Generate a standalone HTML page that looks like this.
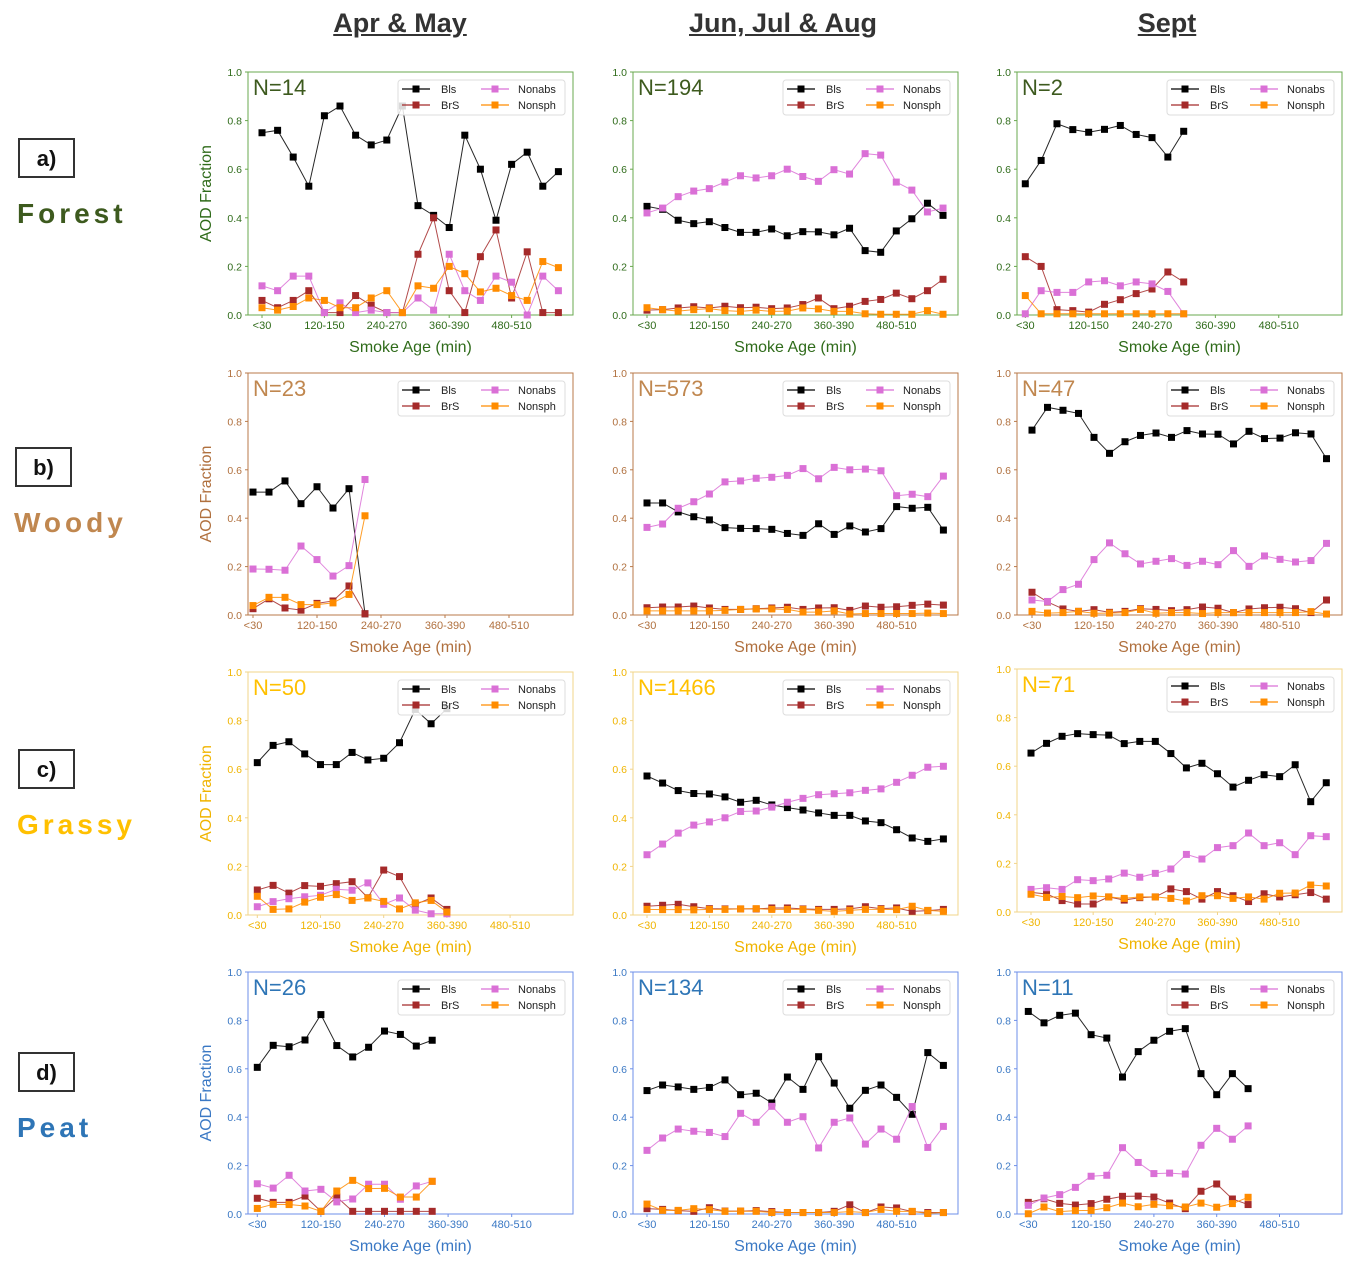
<!DOCTYPE html>
<html><head><meta charset="utf-8">
<style>
body{margin:0;background:#fff;font-family:"Liberation Sans",sans-serif;}
#wrap{position:relative;width:1356px;height:1270px;overflow:hidden;}
.ctitle{position:absolute;top:8px;font-size:27px;font-weight:bold;text-decoration:underline;color:#333;transform:translateX(-50%);white-space:nowrap;}
.rbox{position:absolute;width:57px;height:40px;border:2px solid #333;box-sizing:border-box;font-size:22px;font-weight:bold;text-align:center;line-height:38px;color:#111;}
.rname{position:absolute;font-size:28px;font-weight:bold;letter-spacing:4px;}
</style></head>
<body><div id="wrap">
<div class="ctitle" style="left:400px">Apr &amp; May</div>
<div class="ctitle" style="left:783px">Jun, Jul &amp; Aug</div>
<div class="ctitle" style="left:1167px">Sept</div>
<div class="rbox" style="left:18px;top:138px">a)</div>
<div class="rname" style="left:17px;top:198px;color:#3d5a1e">Forest</div>
<div class="rbox" style="left:15px;top:447px">b)</div>
<div class="rname" style="left:14px;top:507px;color:#c0874f">Woody</div>
<div class="rbox" style="left:18px;top:749px">c)</div>
<div class="rname" style="left:17px;top:809px;color:#ffc000">Grassy</div>
<div class="rbox" style="left:18px;top:1052px">d)</div>
<div class="rname" style="left:17px;top:1112px;color:#2e75b6">Peat</div>
<svg id="chart" width="1356" height="1270" style="position:absolute;left:0;top:0"></svg>
</div>
<script>
const tickLabels=["<30","120-150","240-270","360-390","480-510"];
const tickIdx=[0,4,8,12,16];
const yTicks=[0,0.2,0.4,0.6,0.8,1.0];
const seriesNames=["Bls","BrS","Nonabs","Nonsph"];
const panelN=["N=14","N=194","N=2","N=23","N=573","N=47","N=50","N=1466","N=71","N=26","N=134","N=11"];
const blsA1=[0.75,0.76,0.65,0.53,0.82,0.86,0.74,0.70,0.72,0.86,0.45,0.41,0.36,0.74,0.60,0.39,0.62,0.67,0.53,0.59];
const brsA1=[0.06,0.03,0.06,0.10,0.01,0.01,0.08,0.04,0.01,0.01,0.25,0.40,0.10,0.01,0.24,0.35,0.07,0.26,0.01,0.01];
const nabA1=[0.12,0.10,0.16,0.16,0.01,0.05,0.01,0.02,0.01,0.01,0.07,0.02,0.25,0.10,0.06,0.16,0.135,0.0,0.16,0.10];
const nspA1=[0.03,0.02,0.035,0.07,0.06,0.03,0.03,0.07,0.10,0.01,0.12,0.11,0.20,0.17,0.095,0.11,0.08,0.06,0.22,0.195];
const blsA2=[0.447,0.435,0.39,0.376,0.384,0.36,0.34,0.34,0.354,0.326,0.343,0.342,0.33,0.357,0.265,0.258,0.346,0.396,0.46,0.41];
const brsA2=[0.02,0.022,0.029,0.034,0.029,0.036,0.03,0.032,0.026,0.029,0.043,0.07,0.026,0.036,0.056,0.064,0.09,0.067,0.10,0.147];
const nabA2=[0.42,0.44,0.487,0.51,0.52,0.547,0.573,0.564,0.573,0.60,0.57,0.55,0.598,0.58,0.664,0.658,0.547,0.514,0.424,0.44];
const nspA2=[0.03,0.022,0.016,0.022,0.026,0.018,0.015,0.02,0.015,0.016,0.029,0.025,0.015,0.015,0.005,0.003,0.003,0.003,0.018,0.003];
const blsA3=[0.54,0.636,0.787,0.763,0.752,0.764,0.78,0.743,0.73,0.65,0.756];
const brsA3=[0.24,0.2,0.022,0.018,0.012,0.044,0.063,0.088,0.107,0.177,0.136];
const nabA3=[0.005,0.10,0.093,0.093,0.136,0.141,0.12,0.136,0.128,0.097,0.005];
const nspA3=[0.08,0.005,0.005,0.005,0.005,0.005,0.005,0.005,0.005,0.005,0.005];
const blsB1=[0.508,0.508,0.554,0.46,0.53,0.442,0.522,0.005];
const brsB1=[0.026,0.067,0.029,0.02,0.048,0.058,0.12,0.005];
const nabB1=[0.19,0.189,0.185,0.285,0.229,0.161,0.204,0.56];
const nspB1=[0.039,0.073,0.073,0.043,0.043,0.05,0.085,0.41];
const blsB2=[0.463,0.463,0.426,0.406,0.393,0.361,0.358,0.357,0.354,0.337,0.329,0.377,0.333,0.368,0.343,0.357,0.448,0.441,0.445,0.351];
const brsB2=[0.03,0.033,0.033,0.037,0.029,0.023,0.023,0.026,0.029,0.032,0.023,0.029,0.03,0.019,0.037,0.032,0.034,0.04,0.045,0.041];
const nabB2=[0.362,0.376,0.441,0.468,0.5,0.55,0.554,0.565,0.569,0.577,0.605,0.563,0.61,0.6,0.603,0.596,0.493,0.499,0.489,0.574];
const nspB2=[0.017,0.017,0.017,0.017,0.017,0.019,0.023,0.025,0.025,0.023,0.012,0.012,0.017,0.004,0.006,0.006,0.006,0.006,0.008,0.006];
const blsB3=[0.764,0.858,0.846,0.833,0.734,0.668,0.716,0.742,0.752,0.734,0.762,0.748,0.747,0.707,0.759,0.729,0.731,0.753,0.748,0.646];
const brsB3=[0.094,0.054,0.025,0.015,0.022,0.011,0.015,0.026,0.023,0.018,0.022,0.033,0.028,0.01,0.025,0.03,0.032,0.026,0.01,0.062];
const nabB3=[0.062,0.056,0.105,0.127,0.229,0.298,0.253,0.211,0.222,0.233,0.205,0.222,0.208,0.266,0.201,0.244,0.23,0.219,0.225,0.296];
const nspB3=[0.015,0.008,0.01,0.015,0.007,0.008,0.01,0.023,0.007,0.01,0.01,0.006,0.01,0.01,0.01,0.01,0.01,0.01,0.014,0.004];
const blsC1=[0.627,0.698,0.713,0.663,0.619,0.619,0.669,0.638,0.645,0.709,0.846,0.787,0.849];
const brsC1=[0.103,0.122,0.09,0.121,0.118,0.129,0.137,0.071,0.185,0.158,0.043,0.07,0.023];
const nabC1=[0.034,0.055,0.067,0.075,0.081,0.106,0.102,0.132,0.044,0.07,0.02,0.005,0.005];
const nspC1=[0.077,0.023,0.025,0.053,0.073,0.084,0.06,0.07,0.056,0.025,0.05,0.06,0.012];
const blsC2=[0.572,0.543,0.512,0.5,0.498,0.486,0.464,0.472,0.453,0.442,0.432,0.42,0.41,0.41,0.387,0.38,0.351,0.317,0.303,0.313];
const brsC2=[0.036,0.04,0.044,0.034,0.026,0.025,0.025,0.025,0.029,0.029,0.025,0.023,0.023,0.025,0.034,0.026,0.029,0.015,0.018,0.023];
const nabC2=[0.248,0.292,0.337,0.37,0.383,0.4,0.426,0.428,0.444,0.464,0.48,0.495,0.499,0.503,0.513,0.519,0.546,0.575,0.608,0.612];
const nspC2=[0.023,0.022,0.022,0.021,0.023,0.023,0.025,0.026,0.023,0.023,0.023,0.019,0.015,0.019,0.023,0.023,0.022,0.036,0.019,0.015];
const blsC3=[0.654,0.694,0.723,0.734,0.73,0.728,0.693,0.702,0.702,0.652,0.593,0.612,0.569,0.514,0.542,0.565,0.557,0.606,0.454,0.532];
const brsC3=[0.081,0.074,0.047,0.033,0.033,0.062,0.049,0.059,0.062,0.095,0.084,0.053,0.084,0.067,0.043,0.075,0.062,0.071,0.08,0.053];
const nabC3=[0.093,0.1,0.093,0.133,0.129,0.136,0.16,0.143,0.159,0.177,0.237,0.218,0.265,0.273,0.325,0.273,0.285,0.236,0.314,0.31];
const nspC3=[0.073,0.06,0.064,0.059,0.066,0.062,0.056,0.062,0.062,0.056,0.045,0.067,0.067,0.056,0.062,0.053,0.077,0.078,0.111,0.107];
const blsD1=[0.606,0.697,0.691,0.719,0.824,0.696,0.649,0.689,0.756,0.742,0.694,0.718];
const brsD1=[0.065,0.048,0.048,0.074,0.011,0.07,0.011,0.011,0.011,0.011,0.011,0.011];
const nabD1=[0.125,0.107,0.16,0.095,0.102,0.05,0.062,0.123,0.123,0.061,0.116,0.135];
const nspD1=[0.023,0.04,0.039,0.033,0.011,0.095,0.139,0.105,0.106,0.07,0.07,0.135];
const blsD2=[0.51,0.533,0.525,0.515,0.523,0.554,0.493,0.499,0.459,0.566,0.515,0.65,0.541,0.437,0.511,0.533,0.482,0.412,0.667,0.614];
const brsD2=[0.022,0.019,0.014,0.011,0.026,0.012,0.012,0.014,0.01,0.006,0.006,0.006,0.011,0.038,0.006,0.029,0.025,0.01,0.006,0.006];
const nabD2=[0.263,0.314,0.351,0.342,0.337,0.32,0.416,0.379,0.445,0.379,0.402,0.273,0.379,0.397,0.289,0.351,0.309,0.444,0.275,0.362];
const nspD2=[0.041,0.015,0.015,0.022,0.018,0.011,0.012,0.011,0.006,0.006,0.006,0.006,0.006,0.01,0.006,0.019,0.011,0.011,0.002,0.006];
const blsD3=[0.837,0.79,0.821,0.83,0.741,0.727,0.566,0.671,0.718,0.755,0.766,0.58,0.493,0.58,0.518];
const brsD3=[0.048,0.063,0.044,0.037,0.043,0.061,0.073,0.074,0.07,0.045,0.022,0.094,0.124,0.062,0.039];
const nabD3=[0.036,0.066,0.08,0.11,0.156,0.16,0.274,0.213,0.167,0.169,0.165,0.284,0.354,0.309,0.364];
const nspD3=[0.001,0.029,0.01,0.014,0.015,0.026,0.045,0.03,0.04,0.034,0.029,0.045,0.028,0.043,0.069];

const panelData=[
 [blsA1,brsA1,nabA1,nspA1],[blsA2,brsA2,nabA2,nspA2],[blsA3,brsA3,nabA3,nspA3],
 [blsB1,brsB1,nabB1,nspB1],[blsB2,brsB2,nabB2,nspB2],[blsB3,brsB3,nabB3,nspB3],
 [blsC1,brsC1,nabC1,nspC1],[blsC2,brsC2,nabC2,nspC2],[blsC3,brsC3,nabC3,nspC3],
 [blsD1,brsD1,nabD1,nspD1],[blsD2,brsD2,nabD2,nspD2],[blsD3,brsD3,nabD3,nspD3]];

const colL=[248,633,1017], W=325;
const rowTB=[[72,315],[373,615],[672,915],[972,1214]];
const x0s=[262,647,1025.3,253,647,1032,257.3,647,1031,257.3,647,1028.3];
const dxs=[15.6,15.58,15.84,16,15.6,15.5,15.8,15.6,15.54,15.9,15.6,15.7];
const rowText=["#2f6b1a","#b0703e","#f0b400","#3a78c4"];
const rowN=["#3d5a1e","#c0874f","#ffc000","#2e75b6"];
const rowSpine=["#6aa84f","#b97a4a","#f2d48a","#6d8fe8"];
const sColors=["#000000","#a52a2a","#da70d6","#ff8c00"];
const sKeys=["bls","brs","nonabs","nonsph"];
const NS="http://www.w3.org/2000/svg";
const svg=document.getElementById('chart');
function mk(tag,attrs,parent){const e=document.createElementNS(NS,tag);for(const k in attrs)e.setAttribute(k,attrs[k]);(parent||svg).appendChild(e);return e;}

for(let p=0;p<12;p++){
 const r=Math.floor(p/3),c=p%3;
 const L=colL[c];
 let T=rowTB[r][0],B=rowTB[r][1];
 if(p===8){T=669;B=912;}
 const H=B-T;
 const xs=i=>x0s[p]+i*dxs[p];
 const ys=v=>B-v*H;
 const g=mk('g',{});
 
 
 const fr=mk('rect',{x:L,y:T,width:W,height:H,fill:'none',stroke:rowSpine[r],'stroke-width':1},g);
 
 
 yTicks.forEach(v=>{
  const y=ys(v);
  mk('line',{x1:L-3,x2:L,y1:y,y2:y,stroke:rowSpine[r]},g);
  const t=mk('text',{x:L-6,y:y+4,'font-size':10.5,'text-anchor':'end',fill:rowText[r]},g);
  t.textContent=v.toFixed(1);
  
  
 });
 tickIdx.forEach((ti,k)=>{
  const x=xs(ti);
  mk('line',{x1:x,x2:x,y1:B,y2:B+3,stroke:rowSpine[r]},g);
  const t=mk('text',{x:x,y:B+14,'font-size':11,'text-anchor':'middle',fill:rowText[r]},g);
  t.textContent=tickLabels[k];
  
  
 });
 const xl=mk('text',{x:L+W/2,y:B+37,'font-size':16,'text-anchor':'middle',fill:rowText[r]},g);
 xl.textContent='Smoke Age (min)';
 
 
 if(c===0){
  const yl=mk('text',{x:0,y:0,'font-size':16,'text-anchor':'middle',fill:rowText[r],transform:`translate(${L-37},${T+H/2}) rotate(-90)`},g);
  yl.textContent='AOD Fraction';
  
  
 }
 const nt=mk('text',{x:L+5,y:T+23,'font-size':22,fill:rowN[r]},g);
 nt.textContent=panelN[p];
 
 
 panelData[p].forEach((arr,s)=>{
  const sg=mk('g',{},g);
  
  
  mk('polyline',{points:arr.map((v,i)=>xs(i)+','+ys(v)).join(' '),fill:'none',stroke:sColors[s],'stroke-width':1,'stroke-opacity':0.85},sg);
  arr.forEach((v,i)=>{
   const m=mk('rect',{x:xs(i)-3.5,y:ys(v)-3.5,width:7,height:7,fill:sColors[s]},sg);
   
   
  });
 });
 const lg=mk('g',{},g);
 
 
 mk('rect',{x:L+150,y:T+8,width:167,height:35,rx:3,fill:'#fff','fill-opacity':0.85,stroke:'#ddd'},lg);
 [[0,0],[1,1],[2,0],[3,1]].forEach(([s,row],k)=>{
  const lx=L+(k<2?154:233), ly=T+17+row*16;
  mk('line',{x1:lx,x2:lx+28,y1:ly,y2:ly,stroke:sColors[s],'stroke-width':1.2},lg);
  mk('rect',{x:lx+10.5,y:ly-3.5,width:7,height:7,fill:sColors[s]},lg);
  const t=mk('text',{x:k<2?lx+39:lx+37,y:ly+4,'font-size':11,fill:'#222'},lg);
  t.textContent=seriesNames[s];
  
  
 });
}
</script>
</body></html>
